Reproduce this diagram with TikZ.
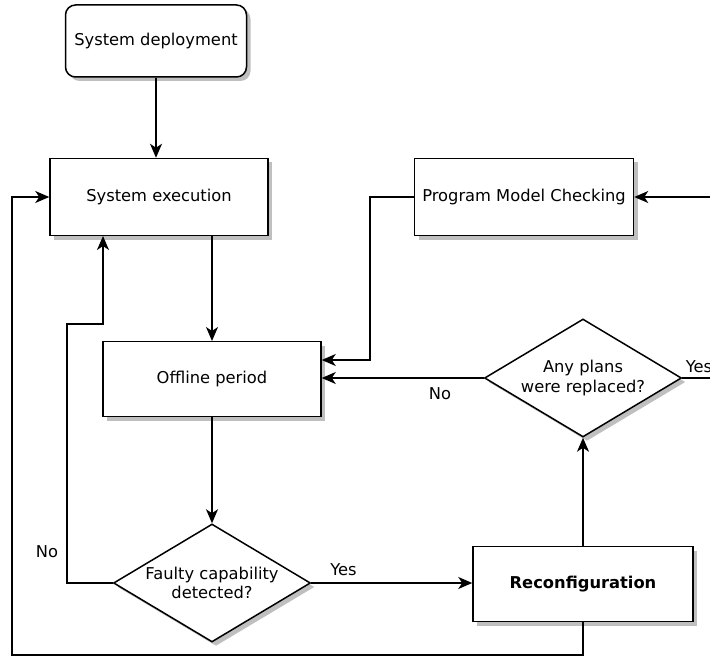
\documentclass[tikz,border=0pt]{standalone}
\usepackage{fontspec}
\setmainfont{DejaVu Sans}
\usetikzlibrary{arrows.meta,shapes.geometric,shadows}
\begin{document}
\begin{tikzpicture}[x=1pt,y=-1pt,line width=1.5pt,font=\fontsize{16.3}{19.5}\selectfont,
  box/.style={draw,fill=white,rectangle,minimum width=218pt,minimum height=77pt,
    drop shadow={shadow xshift=4pt,shadow yshift=-4pt,fill=black!25,opacity=1}},
  decide/.style={draw,fill=white,diamond,aspect=1.66,inner sep=0pt,align=center,
    minimum width=197pt,minimum height=118pt,
    drop shadow={shadow xshift=4pt,shadow yshift=-4pt,fill=black!25,opacity=1}},
  flow/.style={-{Stealth[length=14pt,width=12pt,inset=4pt]}}]
\useasboundingbox (0,0) rectangle (710,658);
\clip (0,0) rectangle (710,658);
% boxes
\node[box,rounded corners=10pt,minimum width=181pt,minimum height=72pt] (deploy) at (156,41) {System deployment};
\node[box] (exec) at (159,197) {System execution};
\node[box,minimum width=219pt] (pmc) at (524,197) {Program Model Checking};
\node[box,minimum height=75pt] (offline) at (212,379) {Offline period};
\node[box,minimum width=220pt,minimum height=75pt] (reconf) at (583,584) {\textbf{Reconfiguration}};
% decisions
\node[decide] (plans) at (583,378) {Any plans\\were replaced?};
\node[decide] (faulty) at (212,583) {Faulty capability\\detected?};
% corner points
\coordinate (offr) at (offline.east |- 0,360);
\coordinate (offt) at (212,341);
\coordinate (execb) at (212,236);
\coordinate (execb2) at (103,236);
% arrows
\draw[flow] (deploy) -- (deploy |- exec.north);
\draw[flow] (execb) -- (offt);
\draw[flow] (offline.south -| offt) -- (faulty.north);
\draw[flow] (faulty.west) -- (67,583) -- (67,324) -- (103,324) -- (execb2);
\draw[flow] (faulty.east) -- (faulty.east -| reconf.west) node[pos=0.2,above=3pt]{Yes};
\draw[flow] (reconf.north) -- (plans.south);
\draw[flow] (plans.west) -- (plans.west -| offline.east) node[pos=0.27,below=6pt]{No};
\draw[flow] (plans.east) -- (730,378) -- (730,197) -- (pmc.east);
\draw[flow] (pmc.west) -- (370,197) -- (370,360) -- (offr);
\draw[flow] (reconf.south) -- (583,655) -- (12,655) -- (12,197) -- (exec.west);
\node (no) at (47,552) {No};
\node (yes) at (699,367) {Yes};
\end{tikzpicture}
\end{document}
